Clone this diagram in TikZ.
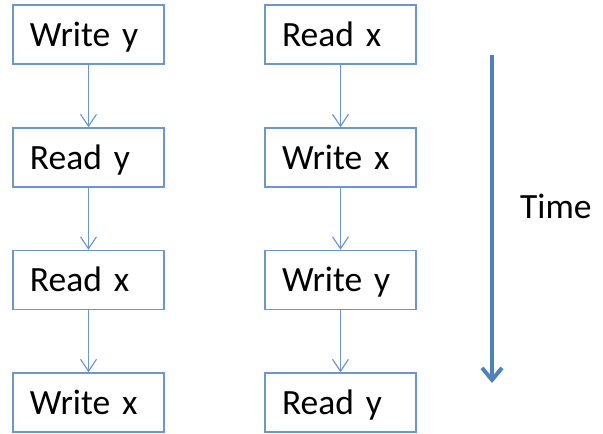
\documentclass[tikz,border=0pt]{standalone}
\usepackage{fontspec}
\setmainfont{Carlito}
\usetikzlibrary{arrows.meta}
\definecolor{boxblue}{RGB}{111,150,204}
\definecolor{arrowblue}{RGB}{79,129,189}
\tikzset{
  opbox/.style={draw=boxblue, line width=1.3pt, fill=white, rectangle,
    text width=117pt, inner xsep=17pt, inner ysep=0pt, align=left,
    minimum height=59pt, text height=23pt, text depth=0pt,
    font=\fontsize{35.5}{40}\selectfont},
  flow/.style={draw=boxblue, line width=1.2pt,
    -{Straight Barb[length=12pt, width=16pt, line width=1.2pt]}},
  timearrow/.style={draw=arrowblue, line width=4pt,
    -{Straight Barb[length=12pt, width=20pt, line width=4pt]}}
}
\begin{document}
\begin{tikzpicture}[x=1pt, y=-1pt]
  \useasboundingbox (0,0) rectangle (603,434);
  % left sequence
  \node[opbox] (l1) at (88.5,34.5) {Write y};
  \node[opbox] (l2) at (88.5,157.5) {Read y};
  \node[opbox] (l3) at (88.5,280) {Read x};
  \node[opbox] (l4) at (88.5,402.5) {Write x};
  % right sequence
  \node[opbox] (r1) at (340.5,34.5) {Read x};
  \node[opbox] (r2) at (340.5,157.5) {Write x};
  \node[opbox] (r3) at (340.5,280) {Write y};
  \node[opbox] (r4) at (340.5,402.5) {Read y};
  \foreach \a/\b in {l1/l2, l2/l3, l3/l4, r1/r2, r2/r3, r3/r4}
    \draw[flow] (\a.south) -- (\b.north);
  % time axis
  \coordinate (t0) at (492,55);
  \coordinate (t1) at (492,383);
  \draw[timearrow] (t0) -- (t1);
  \node[anchor=base west, inner sep=0pt, font=\fontsize{35.5}{40}\selectfont] (time) at (520,218) {Time};
\end{tikzpicture}
\end{document}
